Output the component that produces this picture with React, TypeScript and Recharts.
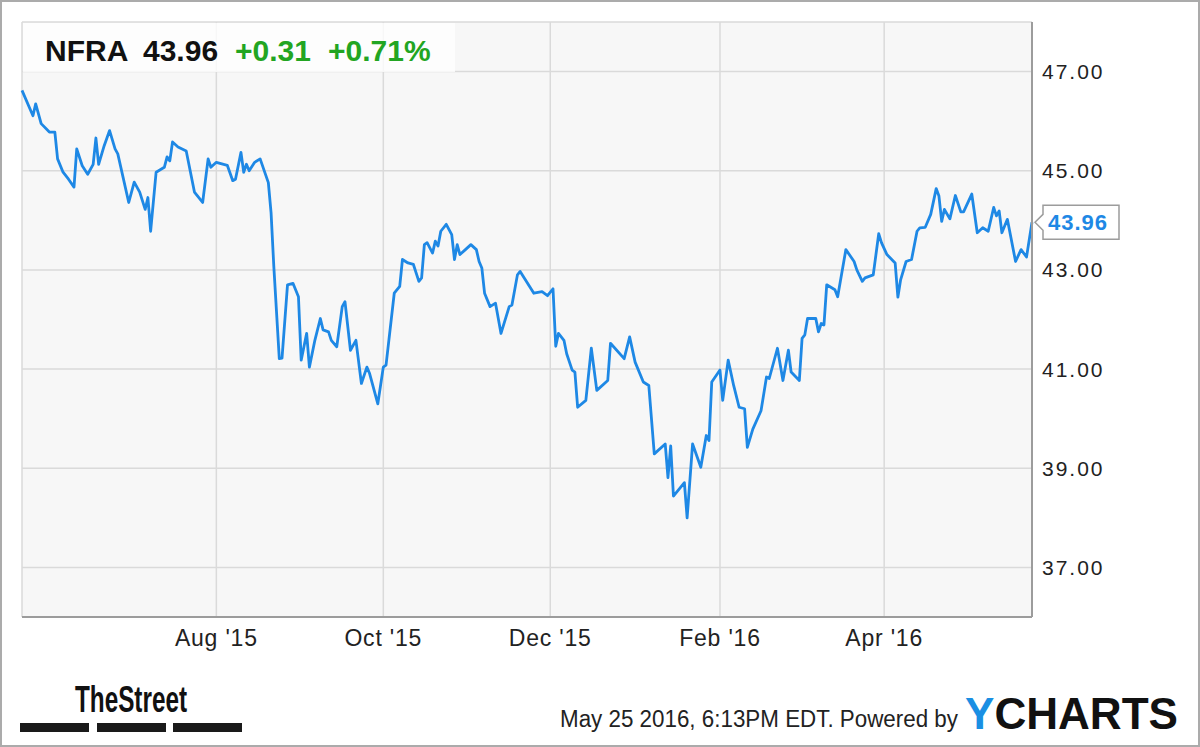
import React from 'react';
import { LineChart, Line, XAxis, YAxis, CartesianGrid, ReferenceDot } from 'recharts';

// daily closes, May '15 - May '16
const dates = [
  '2015-05-22', '2015-05-26', '2015-05-27', '2015-05-29', '2015-06-01', '2015-06-03', '2015-06-04', '2015-06-06',
  '2015-06-08', '2015-06-10', '2015-06-11', '2015-06-13', '2015-06-15', '2015-06-17', '2015-06-18', '2015-06-19',
  '2015-06-21', '2015-06-23', '2015-06-25', '2015-06-26', '2015-06-30', '2015-07-02', '2015-07-04', '2015-07-06',
  '2015-07-07', '2015-07-08', '2015-07-10', '2015-07-13', '2015-07-14', '2015-07-15', '2015-07-16', '2015-07-18',
  '2015-07-21', '2015-07-24', '2015-07-27', '2015-07-29', '2015-07-30', '2015-08-01', '2015-08-05', '2015-08-07',
  '2015-08-08', '2015-08-10', '2015-08-11', '2015-08-12', '2015-08-13', '2015-08-15', '2015-08-17', '2015-08-20',
  '2015-08-21', '2015-08-22', '2015-08-24', '2015-08-25', '2015-08-27', '2015-08-29', '2015-08-31', '2015-09-01',
  '2015-09-03', '2015-09-04', '2015-09-06', '2015-09-08', '2015-09-09', '2015-09-11', '2015-09-12', '2015-09-14',
  '2015-09-16', '2015-09-17', '2015-09-19', '2015-09-21', '2015-09-23', '2015-09-25', '2015-09-26', '2015-09-29',
  '2015-10-01', '2015-10-02', '2015-10-05', '2015-10-07', '2015-10-08', '2015-10-10', '2015-10-12', '2015-10-14',
  '2015-10-15', '2015-10-16', '2015-10-17', '2015-10-19', '2015-10-20', '2015-10-21', '2015-10-22', '2015-10-24',
  '2015-10-26', '2015-10-27', '2015-10-28', '2015-10-29', '2015-10-31', '2015-11-02', '2015-11-04', '2015-11-05',
  '2015-11-06', '2015-11-07', '2015-11-09', '2015-11-11', '2015-11-13', '2015-11-16', '2015-11-17', '2015-11-19',
  '2015-11-20', '2015-11-25', '2015-11-28', '2015-11-30', '2015-12-02', '2015-12-03', '2015-12-04', '2015-12-06',
  '2015-12-07', '2015-12-09', '2015-12-10', '2015-12-11', '2015-12-14', '2015-12-16', '2015-12-18', '2015-12-22',
  '2015-12-23', '2015-12-28', '2015-12-30', '2016-01-01', '2016-01-04', '2016-01-06', '2016-01-08', '2016-01-12',
  '2016-01-13', '2016-01-14', '2016-01-15', '2016-01-19', '2016-01-20', '2016-01-22', '2016-01-25', '2016-01-27',
  '2016-01-28', '2016-01-29', '2016-02-01', '2016-02-02', '2016-02-04', '2016-02-06', '2016-02-08', '2016-02-10',
  '2016-02-11', '2016-02-13', '2016-02-16', '2016-02-18', '2016-02-19', '2016-02-22', '2016-02-24', '2016-02-26',
  '2016-02-27', '2016-03-01', '2016-03-02', '2016-03-03', '2016-03-04', '2016-03-07', '2016-03-08', '2016-03-09',
  '2016-03-10', '2016-03-11', '2016-03-14', '2016-03-15', '2016-03-18', '2016-03-21', '2016-03-22', '2016-03-24',
  '2016-03-25', '2016-03-28', '2016-03-30', '2016-03-31', '2016-04-02', '2016-04-05', '2016-04-06', '2016-04-07',
  '2016-04-09', '2016-04-11', '2016-04-13', '2016-04-14', '2016-04-16', '2016-04-18', '2016-04-20', '2016-04-21',
  '2016-04-22', '2016-04-23', '2016-04-25', '2016-04-27', '2016-04-29', '2016-04-30', '2016-05-03', '2016-05-05',
  '2016-05-07', '2016-05-09', '2016-05-11', '2016-05-12', '2016-05-13', '2016-05-14', '2016-05-16', '2016-05-19',
  '2016-05-21', '2016-05-23', '2016-05-25',
];

const prices = [
  46.62, 46.11, 46.35, 45.95, 45.78, 45.78, 45.24, 44.97,
  44.83, 44.67, 45.44, 45.10, 44.93, 45.13, 45.66, 45.13,
  45.50, 45.81, 45.44, 45.34, 44.36, 44.77, 44.57, 44.22,
  44.46, 43.78, 44.97, 45.07, 45.28, 45.20, 45.58, 45.48,
  45.40, 44.57, 44.36, 45.24, 45.07, 45.17, 45.11, 44.80,
  44.83, 45.37, 44.97, 45.13, 45.00, 45.17, 45.24, 44.76,
  44.15, 43.07, 41.21, 41.22, 42.70, 42.73, 42.46, 41.18,
  41.72, 41.04, 41.58, 42.02, 41.79, 41.75, 41.58, 41.45,
  42.26, 42.36, 41.38, 41.58, 40.71, 41.04, 40.91, 40.30,
  41.04, 41.08, 42.53, 42.67, 43.21, 43.14, 43.11, 42.77,
  42.84, 43.51, 43.55, 43.34, 43.58, 43.48, 43.78, 43.92,
  43.71, 43.21, 43.51, 43.31, 43.41, 43.51, 43.41, 43.17,
  43.04, 42.53, 42.26, 42.33, 41.72, 42.26, 42.29, 42.90,
  42.97, 42.53, 42.56, 42.48, 42.62, 41.46, 41.72, 41.58,
  41.31, 40.98, 40.94, 40.23, 40.37, 41.42, 40.57, 40.77,
  41.52, 41.21, 41.65, 41.14, 40.74, 40.67, 39.29, 39.49,
  38.81, 39.45, 38.44, 38.71, 38.00, 39.49, 39.02, 39.66,
  39.56, 40.74, 40.98, 40.37, 41.18, 40.67, 40.23, 40.20,
  39.42, 39.79, 40.16, 40.84, 40.81, 41.42, 40.77, 41.38,
  40.94, 40.77, 41.62, 41.69, 42.02, 42.02, 41.75, 41.92,
  41.89, 42.70, 42.60, 42.46, 43.41, 43.17, 43.00, 42.77,
  42.84, 42.90, 43.73, 43.55, 43.31, 43.14, 42.45, 42.80,
  43.17, 43.21, 43.78, 43.85, 43.86, 44.12, 44.64, 44.49,
  43.98, 44.22, 44.03, 44.50, 44.17, 44.17, 44.53, 43.75,
  43.85, 43.78, 44.26, 44.09, 44.19, 43.75, 44.02, 43.17,
  43.41, 43.26, 43.96,
];

const tickDates = ['2015-08-01', '2015-10-01', '2015-12-01', '2016-02-01', '2016-04-01'];
const tickLabels = ["Aug '15", "Oct '15", "Dec '15", "Feb '16", "Apr '16"];
const priceTicks = [37, 39, 41, 43, 45, 47];
const priceDomain = [36, 48];

const toTime = (s: string) => Date.parse(s + 'T00:00:00Z');
const data = dates.map((d, i) => ({ t: toTime(d), price: prices[i] }));
const xTicks = tickDates.map(toTime);
const last = data[data.length - 1];

const FONT = '"Liberation Sans", Arial, Helvetica, sans-serif';
const BLUE = '#1e88e5';
const GREEN = '#22a522';
const FRAME = '#9c9c9c';

const formatMonth = (v: number) => tickLabels[xTicks.indexOf(v)] ?? '';

const Callout = (props: any) => {
  const { cx, cy } = props;
  const x = cx + 3;
  const pts = [
    [x, cy], [x + 8, cy - 8], [x + 8, cy - 17], [x + 84, cy - 17],
    [x + 84, cy + 17], [x + 8, cy + 17], [x + 8, cy + 8],
  ].map(p => p.join(',')).join(' ');
  return (
    <g>
      <polygon points={pts} fill="#fff" stroke={FRAME} strokeWidth={1.5} />
      <text x={x + 13} y={cy} dy="0.36em" fill={BLUE} fontFamily={FONT} fontSize={22} fontWeight="bold" letterSpacing={1}>
        {last.price.toFixed(2)}
      </text>
    </g>
  );
};

export default function App() {
  return (
    <div style={{ position: 'absolute', left: 0, top: 0, width: 1200, height: 747, background: '#fff' }}>
      <LineChart width={1200} height={747} data={data} margin={{ top: 22, right: 68, bottom: 90, left: 22 }}>
        <CartesianGrid fill="#f7f7f7" stroke="#dadada" strokeWidth={1.5} />
        <XAxis
          dataKey="t"
          type="number"
          domain={['dataMin', 'dataMax']}
          ticks={xTicks}
          tickFormatter={formatMonth}
          height={40}
          tickLine={false}
          tickMargin={7}
          axisLine={{ stroke: FRAME, strokeWidth: 2 }}
          tick={{ fill: '#222', fontSize: 23, fontFamily: FONT, letterSpacing: 0.8 }}
        />
        <XAxis xAxisId="top" dataKey="t" type="number" domain={['dataMin', 'dataMax']} orientation="top" height={0}
          tick={false} tickLine={false} axisLine={{ stroke: FRAME, strokeWidth: 2 }} />
        <YAxis
          orientation="right"
          domain={priceDomain}
          ticks={priceTicks}
          tickFormatter={(v: number) => v.toFixed(2)}
          width={100}
          tickLine={false}
          tickMargin={4}
          axisLine={{ stroke: FRAME, strokeWidth: 2 }}
          tick={{ fill: '#222', fontSize: 21, fontFamily: FONT, letterSpacing: 2 }}
        />
        <YAxis yAxisId="left" orientation="left" domain={priceDomain} width={0}
          tick={false} tickLine={false} axisLine={{ stroke: FRAME, strokeWidth: 2.5 }} />
        <Line
          type="linear"
          dataKey="price"
          stroke={BLUE}
          strokeWidth={2.8}
          strokeLinejoin="round"
          dot={false}
          isAnimationActive={false}
        />
        <ReferenceDot x={last.t} y={last.price} r={0} ifOverflow="visible" shape={Callout} />
      </LineChart>

      <svg width={1200} height={747} style={{ position: 'absolute', left: 0, top: 0, pointerEvents: 'none' }}>
        <rect x={23} y={23} width={432} height={49} fill="#fff" fillOpacity={0.78} />
        <g fontFamily={FONT} fontSize={30} fontWeight="bold">
          <text x={45} y={61} fill="#111">NFRA</text>
          <text x={143} y={61} fill="#111">43.96</text>
          <text x={235} y={61} fill={GREEN}>+0.31</text>
          <text x={328} y={61} fill={GREEN}>+0.71%</text>
        </g>

        <text x={75} y={712} fontFamily={FONT} fontSize={36} fontWeight="bold" fill="#111"
          textLength={112} lengthAdjust="spacingAndGlyphs">TheStreet</text>
        <rect x={20} y={723} width={69} height={9} fill="#1a1a1a" />
        <rect x={97} y={723} width={69} height={9} fill="#1a1a1a" />
        <rect x={173} y={723} width={69} height={9} fill="#1a1a1a" />

        <text x={560} y={727} fontFamily={FONT} fontSize={23} fill="#222"
          textLength={398} lengthAdjust="spacingAndGlyphs">May 25 2016, 6:13PM EDT. Powered by</text>
        <text x={965} y={729} fontFamily={FONT} fontSize={44} fontWeight="bold" fill="#111"
          textLength={213} lengthAdjust="spacingAndGlyphs">
          <tspan fill="#1a8fe3">Y</tspan>CHARTS
        </text>

        <rect x={1} y={1} width={1198} height={745} fill="none" stroke="#ababab" strokeWidth={2} />
      </svg>
    </div>
  );
}
